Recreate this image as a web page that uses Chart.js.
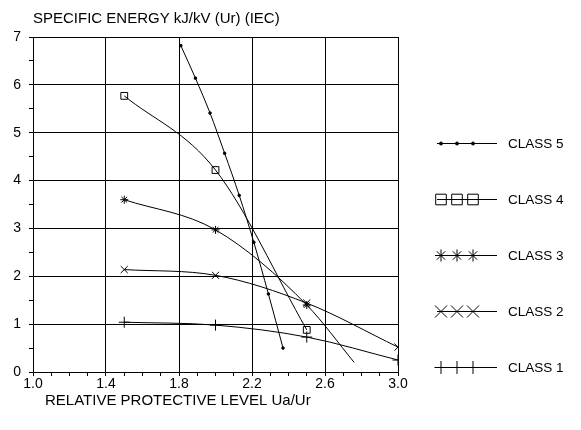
<!DOCTYPE html>
<html>
<head>
<meta charset="utf-8">
<script src="https://cdn.jsdelivr.net/npm/chart.js@4.4.1/dist/chart.umd.min.js"></script>
<style>
  html, body { margin: 0; padding: 0; background: #fff; }
</style>
</head>
<body>
<canvas id="chart" width="581" height="430"></canvas>
<script>
// axis labels
const xTickLabels = ['1.0', '1.4', '1.8', '2.2', '2.6', '3.0'];
const yTickLabels = ['0', '1', '2', '3', '4', '5', '6', '7'];
const xTitle = 'RELATIVE PROTECTIVE LEVEL Ua/Ur';
const yTitle = 'SPECIFIC ENERGY kJ/kV (Ur) (IEC)';
const seriesNames = ['CLASS 5', 'CLASS 4', 'CLASS 3', 'CLASS 2', 'CLASS 1'];

// values
const class5X = [1.81, 1.89, 1.97, 2.05, 2.13, 2.21, 2.29, 2.37];
const class5Y = [6.82, 6.14, 5.41, 4.57, 3.69, 2.71, 1.63, 0.50];
const class4X = [1.5, 2.0, 2.5];
const class4Y = [5.77, 4.22, 0.88];
const class3X = [1.5, 2.0, 2.5, 2.76];
const class3Y = [3.60, 2.97, 1.40, 0.20];
const class2X = [1.5, 2.0, 2.5, 3.0];
const class2Y = [2.14, 2.02, 1.44, 0.52];
const class1X = [1.5, 2.0, 2.5, 3.0];
const class1Y = [1.04, 0.98, 0.73, 0.25];

const FONT = '"Liberation Sans", Arial, sans-serif';
const pts = (xs, ys) => xs.map((x, i) => ({x: x, y: ys[i]}));

// marker styles, chart and legend sizes
const styles = [
  {pointStyle: 'circle', r: 1.3, lr: 1.5, fill: '#000'},
  {pointStyle: 'rect', r: 4.8, lr: 7.5, fill: 'rgba(0,0,0,0)'},
  {pointStyle: 'star', r: 4, lr: 6, fill: 'rgba(0,0,0,0)'},
  {pointStyle: 'crossRot', r: 5, lr: 8.5, fill: 'rgba(0,0,0,0)'},
  {pointStyle: 'cross', r: 5.5, lr: 6.5, fill: 'rgba(0,0,0,0)'}
];
const seriesData = [
  pts(class5X, class5Y),
  pts(class4X, class4Y),
  pts(class3X, class3Y),
  pts(class2X, class2Y),
  pts(class1X, class1Y)
];

const datasets = seriesNames.map((name, i) => ({
  label: name,
  data: seriesData[i],
  showLine: true,
  borderColor: '#000',
  borderWidth: 1,
  cubicInterpolationMode: 'monotone',
  pointStyle: styles[i].pointStyle,
  // class 3 has no marker on its last point
  pointRadius: i === 2 ? seriesData[i].map((p, j) => j === seriesData[i].length - 1 ? 0 : styles[i].r) : styles[i].r,
  pointBackgroundColor: styles[i].fill,
  pointBorderColor: '#000',
  pointBorderWidth: 1
}));

const near = (a, b) => Math.abs(a - b) < 1e-6;

const extras = {
  id: 'extras',
  afterDraw(chart) {
    const ctx = chart.ctx;
    ctx.save();
    ctx.fillStyle = '#000';
    ctx.textBaseline = 'middle';
    ctx.textAlign = 'left';
    ctx.font = '15px ' + FONT;
    ctx.fillText(yTitle, 33, 19);
    ctx.fillText(xTitle, 45, 401);

    // legend with three markers per line
    const rowY = [143, 199, 255, 311, 367];
    seriesNames.forEach((name, i) => {
      const y = rowY[i];
      ctx.strokeStyle = '#000';
      ctx.lineWidth = 1;
      ctx.beginPath();
      ctx.moveTo(437, y + 0.5);
      ctx.lineTo(497, y + 0.5);
      ctx.stroke();
      [441, 457, 473].forEach(x => {
        ctx.fillStyle = styles[i].fill;
        ctx.strokeStyle = '#000';
        Chart.helpers.drawPoint(ctx, {pointStyle: styles[i].pointStyle, radius: styles[i].lr, rotation: 0, borderWidth: 1}, x, y + 0.5);
      });
      ctx.fillStyle = '#000';
      ctx.font = '13.5px ' + FONT;
      ctx.fillText(name, 508, y + 1);
    });
    ctx.restore();
  }
};

new Chart(document.getElementById('chart'), {
  type: 'scatter',
  data: {datasets: datasets},
  options: {
    responsive: false,
    animation: false,
    layout: {padding: {top: 37, right: 183, bottom: 0, left: 0}},
    plugins: {legend: {display: false}, tooltip: {enabled: false}},
    scales: {
      x: {
        type: 'linear',
        min: 1.0,
        max: 3.0,
        afterBuildTicks(scale) {
          const t = [];
          for (let k = 0; k <= 20; k++) t.push({value: 1.0 + k * 0.1});
          scale.ticks = t;
        },
        afterFit(scale) { scale.height = 58; },
        ticks: {
          autoSkip: false,
          maxRotation: 0,
          padding: 0,
          color: '#000',
          font: {family: FONT, size: 14},
          callback: v => {
            const lab = xTickLabels.find(l => near(parseFloat(l), v));
            return lab || '';
          }
        },
        grid: {
          color: c => xTickLabels.some(l => near(parseFloat(l), c.tick.value)) ? '#000' : 'rgba(0,0,0,0)',
          tickColor: '#000',
          tickLength: 4,
          lineWidth: 1
        },
        border: {display: true, color: '#000', width: 1}
      },
      y: {
        type: 'linear',
        min: 0,
        max: 7,
        afterBuildTicks(scale) {
          const t = [];
          for (let k = 0; k <= 14; k++) t.push({value: k * 0.5});
          scale.ticks = t;
        },
        afterFit(scale) { scale.width = 33; },
        ticks: {
          autoSkip: false,
          padding: 8,
          color: '#000',
          font: {family: FONT, size: 14},
          callback: v => {
            const lab = yTickLabels.find(l => near(parseFloat(l), v));
            return lab || '';
          }
        },
        grid: {
          color: c => yTickLabels.some(l => near(parseFloat(l), c.tick.value)) ? '#000' : 'rgba(0,0,0,0)',
          tickColor: '#000',
          tickLength: 4,
          lineWidth: 1
        },
        border: {display: true, color: '#000', width: 1}
      }
    }
  },
  plugins: [extras]
});
</script>
</body>
</html>
